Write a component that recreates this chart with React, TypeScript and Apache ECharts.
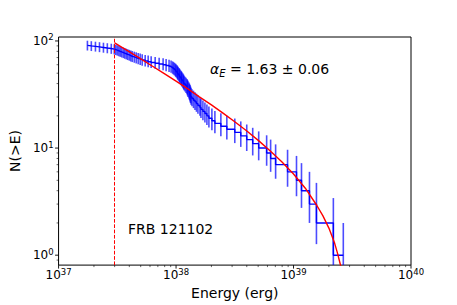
import React, { useEffect, useRef } from 'react';
import * as echarts from 'echarts';

// Burst energies (erg), ascending, and cumulative counts N(>E) for each
const burstEnergy = [
  1.76e37, 1.90e37, 2.06e37, 2.23e37, 2.41e37, 2.60e37, 2.81e37, 2.98e37, 3.07e37, 3.16e37,
  3.26e37, 3.35e37, 3.45e37, 3.56e37, 3.66e37, 3.77e37, 3.88e37, 4.00e37, 4.12e37, 4.24e37,
  4.41e37, 4.58e37, 4.76e37, 4.95e37, 5.15e37, 5.46e37, 5.79e37, 6.14e37, 6.64e37, 7.18e37,
  7.76e37, 8.23e37, 8.72e37, 9.07e37, 9.34e37, 9.52e37, 9.71e37, 9.90e37, 1.000e38, 1.020e38,
  1.030e38, 1.040e38, 1.060e38, 1.071e38, 1.081e38, 1.103e38, 1.113e38, 1.124e38, 1.146e38, 1.158e38,
  1.169e38, 1.192e38, 1.216e38, 1.240e38, 1.252e38, 1.264e38, 1.289e38, 1.302e38, 1.315e38, 1.327e38,
  1.341e38, 1.367e38, 1.408e38, 1.450e38, 1.492e38, 1.536e38, 1.597e38, 1.629e38, 1.693e38, 1.761e38,
  1.831e38, 1.904e38, 2.019e38, 2.141e38, 2.407e38, 2.706e38, 3.162e38, 3.556e38, 3.997e38, 4.494e38,
  5.052e38, 5.904e38, 6.384e38, 7.039e38, 8.897e38, 1.060e39, 1.169e39, 1.367e39, 1.567e39, 2.183e39,
  2.653e39,
];
const cumulativeCount = [
  91, 90, 89, 88, 87, 86, 85, 84, 83, 82,
  81, 80, 79, 78, 77, 76, 75, 74, 73, 72,
  71, 70, 69, 68, 67, 66, 65, 64, 63, 62,
  61, 60, 59, 58, 57, 56, 55, 54, 53, 52,
  51, 50, 49, 48, 47, 46, 45, 44, 43, 42,
  41, 40, 39, 38, 37, 36, 35, 34, 33, 32,
  31, 30, 29, 28, 27, 26, 25, 24, 23, 22,
  21, 20, 19, 18, 17, 16, 15, 14, 13, 12,
  11, 10, 9, 8, 7, 6, 5, 4, 3, 2,
  1,
];

// Fitted model curve
const fitEnergy = [
  3.0e37, 3.55e37, 3.98e37, 5.01e37, 6.31e37, 7.94e37, 1.0e38, 1.26e38, 1.58e38, 2.0e38,
  2.51e38, 3.16e38, 3.98e38, 5.01e38, 6.31e38, 7.94e38, 1.0e39, 1.26e39, 1.58e39, 1.78e39,
  2.0e39, 2.24e39, 2.37e39, 2.51e39, 2.63e39,
];
const fitCount = [
  96.0, 85.8, 79.4, 68.0, 58.1, 49.5, 42.1, 35.7, 30.1, 25.3,
  21.2, 17.6, 14.5, 11.8, 9.46, 7.45, 5.72, 4.22, 2.91, 2.33,
  1.79, 1.29, 1.04, 0.81, 0.64,
];

const thresholdEnergy = 3e37;
const xRange = [1e37, 1e40];
const yRange = [0.808, 108.9];
const fitLabel = { symbol: 'α', sub: 'E', value: ' = 1.63 ± 0.06' };
const sourceName = 'FRB 121102';
const xTitle = 'Energy (erg)';
const yTitle = 'N(>E)';

const FONT = 'DejaVu Sans';

function minorTicks(lo: number, hi: number): number[] {
  const out: number[] = [];
  for (let d = Math.floor(Math.log10(lo)); d <= Math.ceil(Math.log10(hi)); d++) {
    for (let m = 2; m <= 9; m++) {
      const v = m * Math.pow(10, d);
      if (v > lo && v < hi) out.push(v);
    }
  }
  return out;
}
function majorTicks(lo: number, hi: number): number[] {
  const out: number[] = [];
  for (let d = Math.floor(Math.log10(lo)); d <= Math.ceil(Math.log10(hi)); d++) {
    const v = Math.pow(10, d);
    if (v >= lo * 0.9999 && v <= hi * 1.0001) out.push(v);
  }
  return out;
}

const labelFormatter = (v: number) => {
  const l = Math.log10(v);
  const r = Math.round(l);
  if (Math.abs(l - r) > 1e-6) return '';
  return `{b|10}{s|${r}}`;
};
const labelRich = {
  b: { fontSize: 12, fontFamily: FONT, color: '#000', lineHeight: 16 },
  s: { fontSize: 8.5, fontFamily: FONT, color: '#000', lineHeight: 9, verticalAlign: 'top' },
};

export default function App() {
  const ref = useRef<HTMLDivElement>(null);
  useEffect(() => {
    const chart = echarts.init(ref.current!, null, { renderer: 'svg' });
    const points = burstEnergy.map((e, i) => [e, cumulativeCount[i]]);
    const fit = fitEnergy.map((e, i) => [e, fitCount[i]]);

    const xTick = (len: number, width: number) => (params: any, api: any) => {
      const cs = params.coordSys;
      const x = api.coord([api.value(0), 10])[0];
      const yb = cs.y + cs.height;
      return {
        type: 'line',
        shape: { x1: x, y1: yb, x2: x, y2: yb + len },
        style: { stroke: '#000', lineWidth: width },
      };
    };
    const yTick = (len: number, width: number) => (params: any, api: any) => {
      const cs = params.coordSys;
      const y = api.coord([1e38, api.value(1)])[1];
      return {
        type: 'line',
        shape: { x1: cs.x - len, y1: y, x2: cs.x, y2: y },
        style: { stroke: '#000', lineWidth: width },
      };
    };

    chart.setOption({
      animation: false,
      backgroundColor: '#fff',
      grid: {
        left: 57, right: 46, top: 37, bottom: 39,
        show: true, borderColor: '#000', borderWidth: 1, backgroundColor: 'transparent',
      },
      xAxis: {
        type: 'log', logBase: 10, min: xRange[0], max: xRange[1],
        axisLine: { show: false }, axisTick: { show: false }, splitLine: { show: false },
        axisLabel: { formatter: labelFormatter, rich: labelRich, margin: 2 },
        name: xTitle, nameLocation: 'middle', nameGap: 20,
        nameTextStyle: { fontFamily: FONT, fontSize: 14, color: '#000' },
      },
      yAxis: {
        type: 'log', logBase: 10, min: yRange[0], max: yRange[1],
        axisLine: { show: false }, axisTick: { show: false }, splitLine: { show: false },
        axisLabel: { formatter: labelFormatter, rich: labelRich, margin: 5 },
        name: yTitle, nameLocation: 'middle', nameGap: 31, nameRotate: 90,
        nameTextStyle: { fontFamily: FONT, fontSize: 14, color: '#000' },
      },
      series: [
        {
          type: 'custom', clip: true, z: 2,
          data: points, encode: { x: 0, y: 1 },
          renderItem: (params: any, api: any) => {
            const e = api.value(0);
            const n = api.value(1);
            const err = Math.sqrt(n);
            const lo = Math.max(n - err, 1e-3);
            const p1 = api.coord([e, n + err]);
            const p2 = api.coord([e, lo]);
            return {
              type: 'line',
              shape: { x1: p1[0], y1: p1[1], x2: p2[0], y2: p2[1] },
              style: { stroke: 'rgba(0,0,255,0.7)', lineWidth: 1.6 },
            };
          },
        },
        {
          type: 'line', step: 'start', data: points, symbol: 'none', z: 3,
          lineStyle: { color: '#0000ff', width: 1.4 },
          markLine: {
            silent: true, symbol: 'none', label: { show: false },
            lineStyle: { color: '#ff0000', width: 1, type: [3.7, 1.6] },
            data: [{ xAxis: thresholdEnergy }],
          },
        },
        {
          type: 'line', data: fit, symbol: 'none', smooth: false, z: 4,
          lineStyle: { color: '#ff0000', width: 1.4 },
        },
        {
          type: 'custom', clip: false, silent: true,
          data: majorTicks(xRange[0], xRange[1]).map((v) => [v, 10]),
          renderItem: xTick(3.5, 0.9),
        },
        {
          type: 'custom', clip: false, silent: true,
          data: minorTicks(xRange[0], xRange[1]).map((v) => [v, 10]),
          renderItem: xTick(2, 0.6),
        },
        {
          type: 'custom', clip: false, silent: true,
          data: majorTicks(yRange[0], yRange[1]).map((v) => [1e38, v]),
          renderItem: yTick(3.5, 0.9),
        },
        {
          type: 'custom', clip: false, silent: true,
          data: minorTicks(yRange[0], yRange[1]).map((v) => [1e38, v]),
          renderItem: yTick(2, 0.6),
        },
      ],
      graphic: [
        {
          type: 'text', x: 210, y: 60, silent: true,
          style: {
            text: `{a|${fitLabel.symbol}}{e|${fitLabel.sub}}{n|${fitLabel.value}}`,
            verticalAlign: 'top',
            rich: {
              a: { fontSize: 14, fontFamily: FONT, fontStyle: 'italic', fill: '#000', lineHeight: 18 },
              e: { fontSize: 10, fontFamily: FONT, fontStyle: 'italic', fill: '#000', lineHeight: 14, verticalAlign: 'bottom' },
              n: { fontSize: 14, fontFamily: FONT, fill: '#000', lineHeight: 18 },
            },
          },
        },
        {
          type: 'text', x: 128, y: 229.3, silent: true,
          style: { text: sourceName, fontSize: 14, fontFamily: FONT, fill: '#000', verticalAlign: 'middle' },
        },
      ],
    });
    return () => chart.dispose();
  }, []);
  return (
    <div
      ref={ref}
      style={{ position: 'fixed', left: 0, top: 0, width: 457, height: 305, background: '#fff' }}
    />
  );
}
